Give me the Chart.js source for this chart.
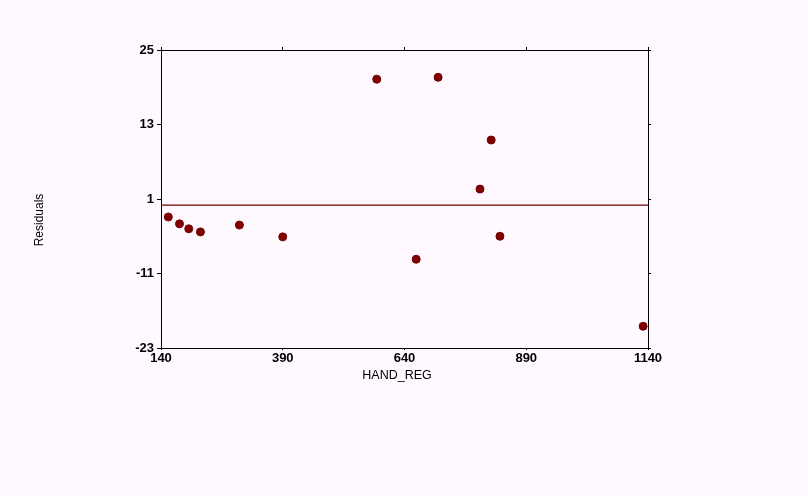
<!DOCTYPE html>
<html lang="en">
<head>
    <meta charset="UTF-8">
    <title>Residuals vs HAND_REG</title>
    <script src="https://cdn.jsdelivr.net/npm/chart.js"></script>
    <style>
        body { margin: 0; background: #fff8ff; }
        canvas { display: block; }
    </style>
</head>
<body>
    <canvas id="myChart" width="808" height="496"></canvas>

    <script>
        // residuals
        const handReg = [155, 178, 197, 221, 301, 390, 583, 664, 709, 795, 818, 836, 1130];
        const residuals = [-1.9, -3.0, -3.8, -4.3, -3.2, -5.1, 20.3, -8.7, 20.6, 2.6, 10.5, -5.0, -19.5];

        const xTicks = [140, 390, 640, 890, 1140];
        const yTicks = [-23, -11, 1, 13, 25];

        // zero reference line
        const zeroLineX = [140, 1140];
        const zeroLineY = [0, 0];

        const points = handReg.map((x, i) => ({ x: x, y: residuals[i] }));
        const zeroLine = zeroLineX.map((x, i) => ({ x: x, y: zeroLineY[i] }));

        const tickFont = { family: 'Liberation Sans', size: 13, weight: 'bold' };

        // axis titles sit off-centre in the original, so place them by hand
        const axisTitles = {
            id: 'axisTitles',
            afterDraw(chart) {
                const ctx = chart.ctx;
                ctx.save();
                ctx.font = '12.5px "Liberation Sans"';
                ctx.fillStyle = '#000';
                ctx.textAlign = 'center';
                ctx.textBaseline = 'middle';
                ctx.fillText('HAND_REG', 397, 376);
                ctx.font = '12px "Liberation Sans"';
                ctx.translate(40, 220);
                ctx.rotate(-Math.PI / 2);
                ctx.fillText('Residuals', 0, 0);
                ctx.restore();
            }
        };

        const mirror = (pos, min, max, step) => ({
            type: 'linear',
            position: pos,
            min: min,
            max: max,
            ticks: { display: false, stepSize: step },
            grid: { drawOnChartArea: false, tickLength: 3, color: '#000' },
            border: { color: '#000', width: 1 },
            afterFit: s => { if (pos === 'top') s.height = 3; else s.width = 3; }
        });

        const ctx = document.getElementById('myChart').getContext('2d');
        new Chart(ctx, {
            type: 'scatter',
            data: {
                datasets: [{
                    type: 'line',
                    data: zeroLine,
                    borderColor: '#700000',
                    borderWidth: 1.2,
                    pointRadius: 0,
                    fill: false
                }, {
                    data: points,
                    backgroundColor: '#800000',
                    borderColor: '#700000',
                    borderWidth: 1,
                    pointRadius: 4
                }]
            },
            options: {
                responsive: false,
                animation: false,
                layout: { autoPadding: false, padding: { left: 33, top: 47, right: 157, bottom: 113 } },
                plugins: { legend: { display: false }, tooltip: { enabled: false } },
                scales: {
                    x: {
                        type: 'linear',
                        position: 'bottom',
                        min: xTicks[0],
                        max: xTicks[xTicks.length - 1],
                        afterBuildTicks: s => { s.ticks = xTicks.map(v => ({ value: v })); },
                        ticks: { color: '#000', font: tickFont, padding: 1, maxRotation: 0, autoSkip: false,
                                 callback: v => String(v) },
                        grid: { drawOnChartArea: false, tickLength: 2, color: '#000' },
                        border: { color: '#000', width: 1 },
                        afterFit: s => { s.height = 35; }
                    },
                    y: {
                        type: 'linear',
                        position: 'left',
                        min: yTicks[0],
                        max: yTicks[yTicks.length - 1],
                        afterBuildTicks: s => { s.ticks = yTicks.map(v => ({ value: v })); },
                        ticks: { color: '#000', font: tickFont, padding: 3, autoSkip: false,
                                 callback: v => String(v) },
                        grid: { drawOnChartArea: false, tickLength: 4, color: '#000' },
                        border: { color: '#000', width: 1 },
                        afterFit: s => { s.width = 128; }
                    },
                    x2: mirror('top', xTicks[0], xTicks[xTicks.length - 1], 250),
                    y2: mirror('right', yTicks[0], yTicks[yTicks.length - 1], 12)
                }
            },
            plugins: [axisTitles]
        });
    </script>
</body>
</html>
